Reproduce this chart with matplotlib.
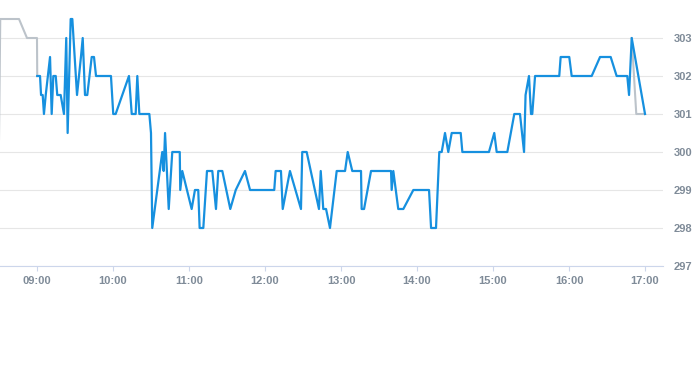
import numpy as np
import matplotlib
matplotlib.use("Agg")
import matplotlib.pyplot as plt
from matplotlib.ticker import FixedLocator, FuncFormatter

# minutes after 09:00 and price
main_t = [0.2, 2.4, 3.2, 4.5, 5.5, 6.9, 10.3, 11.6, 12.9, 14.8, 16.0, 18.7, 21.3,
          23.1, 24.2, 26.6, 27.9, 31.6, 34.7, 36.1, 37.9, 39.7, 43.2, 45.0, 46.6,
          58.4, 60.2, 62.1, 72.6, 74.8, 77.9, 79.2, 80.8, 88.7, 90.0, 91.0, 98.9,
          100.0, 101.1, 104.0, 106.8, 112.7, 113.1, 114.7, 122.1, 124.7, 127.3,
          128.4, 131.3, 134.2, 138.4, 141.3, 143.1, 146.3, 152.6, 156.9, 164.2,
          168.2, 187.3, 188.4, 192.6, 194.0, 199.7, 208.4, 209.4, 212.9, 222.6,
          224.0, 226.0, 228.2, 231.3, 236.6, 243.2, 245.3, 248.9, 255.8, 256.3,
          258.2, 263.7, 279.5, 280.0, 281.3, 285.2, 289.2, 297.1, 309.5, 311.1,
          315.0, 317.6, 319.5, 322.1, 324.7, 327.4, 334.5, 335.8, 356.8, 361.0,
          362.9, 371.3, 376.8, 381.3, 384.5, 385.7, 388.4, 390.0, 391.0, 393.2,
          408.9, 412.3, 413.4, 420.2, 422.1, 437.9, 444.5, 452.9, 457.6, 466.0,
          467.4, 469.5, 480.0]
main_p = [302, 302, 301.5, 301.5, 301, 301.5, 302.5, 301, 302, 302, 301.5, 301.5, 301,
          303, 300.5, 303.5, 303.5, 301.5, 302.5, 303, 301.5, 301.5, 302.5, 302.5, 302,
          302, 301, 301, 302, 301, 301, 302, 301, 301, 300.5, 298, 300,
          299.5, 300.5, 298.5, 300, 300, 299, 299.5, 298.5, 299, 299,
          298, 298, 299.5, 299.5, 298.5, 299.5, 299.5, 298.5, 299, 299.5,
          299, 299, 299.5, 299.5, 298.5, 299.5, 298.5, 300, 300, 298.5,
          299.5, 298.5, 298.5, 298, 299.5, 299.5, 300, 299.5, 299.5, 298.5,
          298.5, 299.5, 299.5, 299, 299.5, 298.5, 298.5, 299, 299, 298,
          298, 300, 300, 300.5, 300, 300.5, 300.5, 300, 300, 300.5,
          300, 300, 301, 301, 300, 301.5, 302, 301, 301, 302,
          302, 302, 302.5, 302.5, 302, 302, 302.5, 302.5, 302, 302,
          301.5, 303, 301]

pre_t = [-30.0, -29.0, -14.2, -7.9, 0.0, 0.2]
pre_p = [300.3, 303.5, 303.5, 303, 303, 302]
post_t = [469.5, 473.1, 480.0]
post_p = [303, 301, 301]

hour_ticks = [0, 60, 120, 180, 240, 300, 360, 420, 480]
price_ticks = [297, 298, 299, 300, 301, 302, 303]

W, H = 693, 365
fig = plt.figure(figsize=(W / 100, H / 100), dpi=100)
ax = fig.add_axes([0, 99 / H, 663 / W, (266 - 15.2) / H])

label_col = "#7f8b98"
ax.plot(pre_t, pre_p, color="#bcc3ca", lw=1.5, solid_joinstyle="round", zorder=2)
ax.plot(post_t, post_p, color="#bcc3ca", lw=1.5, solid_joinstyle="round", zorder=2)
ax.plot(main_t, main_p, color="#1690df", lw=1.6, solid_joinstyle="round", zorder=3)

ax.set_xlim(-29.2, 494.2)
ax.set_ylim(297, 303.6)

ax.xaxis.set_major_locator(FixedLocator(hour_ticks))
ax.xaxis.set_major_formatter(FuncFormatter(lambda v, p: f"{9 + int(v // 60):02d}:00"))
ax.yaxis.set_major_locator(FixedLocator(price_ticks))
ax.yaxis.set_major_formatter(FuncFormatter(lambda v, p: f"{v:.0f}"))
ax.yaxis.tick_right()

ax.grid(axis="y", color="#e6e6e6", lw=0.8)
ax.set_axisbelow(True)
for s in ["top", "left", "right"]:
    ax.spines[s].set_visible(False)
ax.spines["bottom"].set_color("#ccd6eb")
ax.spines["bottom"].set_linewidth(0.8)

ax.tick_params(axis="x", length=3.5, width=0.8, color="#ccd6eb", pad=4,
               labelsize=8, labelcolor=label_col)
ax.tick_params(axis="y", length=0, pad=7.5, labelsize=8, labelcolor=label_col)
for lab in ax.get_xticklabels() + ax.get_yticklabels():
    lab.set_fontfamily("Liberation Sans")
    lab.set_fontweight("bold")

fig.savefig("out.png", dpi=100)
